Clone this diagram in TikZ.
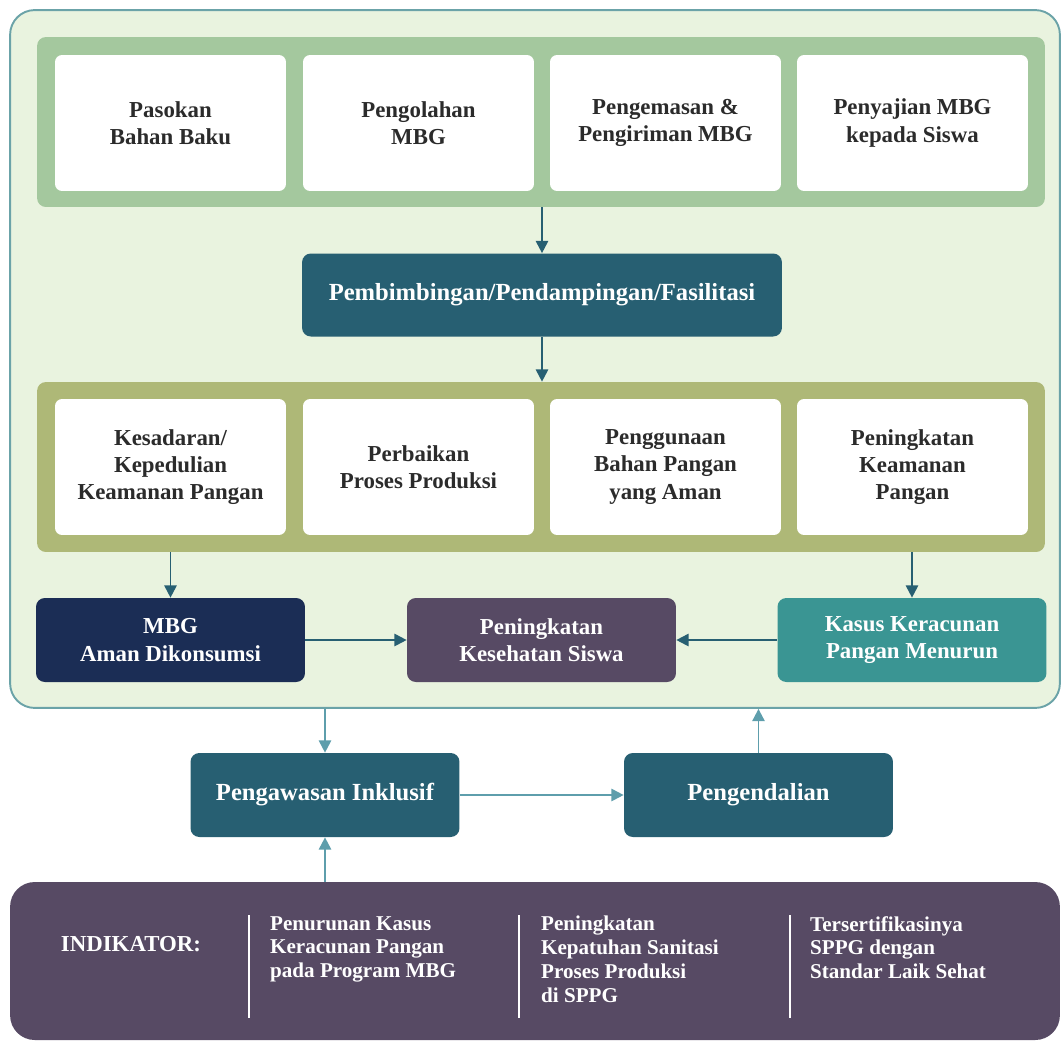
\documentclass[tikz,border=0pt]{standalone}
\usepackage{fontspec}
\setmainfont{LiberationSerif}[Extension=.ttf, UprightFont=*-Regular, BoldFont=*-Bold,
  ItalicFont=*-Italic, BoldItalicFont=*-BoldItalic]
\usetikzlibrary{arrows.meta}

\definecolor{frameline}{HTML}{6BA3A8}
\definecolor{framefill}{HTML}{E9F3DF}
\definecolor{bandgreen}{HTML}{A4C89E}
\definecolor{bandolive}{HTML}{AEB877}
\definecolor{darkteal}{HTML}{275F72}
\definecolor{navyblue}{HTML}{1B2D55}
\definecolor{plum}{HTML}{574A64}
\definecolor{seateal}{HTML}{3A9593}
\definecolor{lightarrow}{HTML}{5E9EAC}
\definecolor{inktext}{HTML}{2B2B2B}

\begin{document}
\begin{tikzpicture}[x=0.02cm, y=-0.02cm,
    band/.style={rounded corners=5pt, minimum width=20.16cm, minimum height=3.4cm},
    card/.style={fill=white, rounded corners=4pt, minimum width=4.62cm, minimum height=2.72cm,
      align=center, text=inktext, font=\fontsize{13}{15.5}\selectfont\bfseries},
    solid box/.style={rounded corners=5pt, minimum width=5.38cm, minimum height=1.68cm,
      align=center, text=white, font=\fontsize{13}{15.5}\selectfont\bfseries},
    link/.style={line width=1.1pt, darkteal, -{Triangle[width=7pt,length=7pt]}},
    soft link/.style={link, lightarrow}]
  \useasboundingbox (0,0) rectangle (1062,1042);

  % outer frame and indicator panel
  \node [draw=frameline, line width=1.1pt, fill=framefill, rounded corners=14pt,
    minimum width=21cm, minimum height=13.96cm] (frame) at (535,359) {};
  \node [fill=plum, rounded corners=14pt, minimum width=21cm, minimum height=3.16cm]
    (indicator) at (535,961) {};

  % first band
  \node [band, fill=bandgreen] (band1) at (541,122) {};
  \node [card] (supply) at (170.5,123) {Pasokan\\Bahan Baku};
  \node [card] (process) at (418.5,123) {Pengolahan\\MBG};
  \node [card] (packing) at (665.5,123) {Pengemasan \&\\Pengiriman MBG};
  \node [card] (serving) at (912.5,123) {Penyajian MBG\\kepada Siswa};

  \node [solid box, fill=darkteal, minimum width=9.6cm, minimum height=1.66cm,
    font=\fontsize{14}{16}\selectfont\bfseries] (guide) at (542,295)
    {Pembimbingan/Pendampingan/Fasilitasi};

  % second band
  \node [band, fill=bandolive] (band2) at (541,467) {};
  \node [card] (aware) at (170.5,467) {Kesadaran/\\Kepedulian\\Keamanan Pangan};
  \node [card] (repair) at (418.5,467) {Perbaikan\\Proses Produksi};
  \node [card] (usage) at (665.5,467) {Penggunaan\\Bahan Pangan\\yang Aman};
  \node [card] (safety) at (912.5,467) {Peningkatan\\Keamanan\\Pangan};

  \node [solid box, fill=navyblue] (safe) at (170.5,640) {MBG\\Aman Dikonsumsi};
  \node [solid box, fill=plum] (health) at (541.5,640) {Peningkatan\\Kesehatan Siswa};
  \node [solid box, fill=seateal] (cases) at (912,640) {Kasus Keracunan\\Pangan Menurun};

  \node [solid box, fill=darkteal, font=\fontsize{14}{16}\selectfont\bfseries]
    (watch) at (325,795) {Pengawasan Inklusif};
  \node [solid box, fill=darkteal, font=\fontsize{14}{16}\selectfont\bfseries]
    (control) at (758.5,795) {Pengendalian};

  \draw [link] (band1.south -| guide.north) -- (guide.north);
  \draw [link] (guide.south) -- (band2.north -| guide.south);
  \draw [link] (band2.south -| safe.north) -- (safe.north);
  \draw [link] (band2.south -| cases.north) -- (cases.north);
  \draw [link] (safe.east) -- (health.west);
  \draw [link] (cases.west) -- (health.east);

  \draw [soft link] (frame.south -| watch.north) -- (watch.north);
  \draw [soft link] (watch.east) -- (control.west);
  \draw [soft link] (control.north) -- (frame.south -| control.north);
  \draw [soft link] (indicator.north -| watch.south) -- (watch.south);

  % indicators
  \node [text=white, font=\fontsize{13}{15.5}\selectfont\bfseries] (label) at (131,944) {INDIKATOR:};
  \foreach \x in {249,519,790}
    \draw [white, line width=1pt] (\x,915) -- (\x,1018);
  \node [anchor=north west, align=left, text=white, font=\fontsize{12}{13.6}\selectfont\bfseries]
    (ind1) at (264,910) {Penurunan Kasus\\Keracunan Pangan\\pada Program MBG};
  \node [anchor=north west, align=left, text=white, font=\fontsize{12}{13.6}\selectfont\bfseries]
    (ind2) at (535,910) {Peningkatan\\Kepatuhan Sanitasi\\Proses Produksi\\di SPPG};
  \node [anchor=north west, align=left, text=white, font=\fontsize{12}{13.6}\selectfont\bfseries]
    (ind3) at (804,910) {Tersertifikasinya\\SPPG dengan\\Standar Laik Sehat};
\end{tikzpicture}
\end{document}
